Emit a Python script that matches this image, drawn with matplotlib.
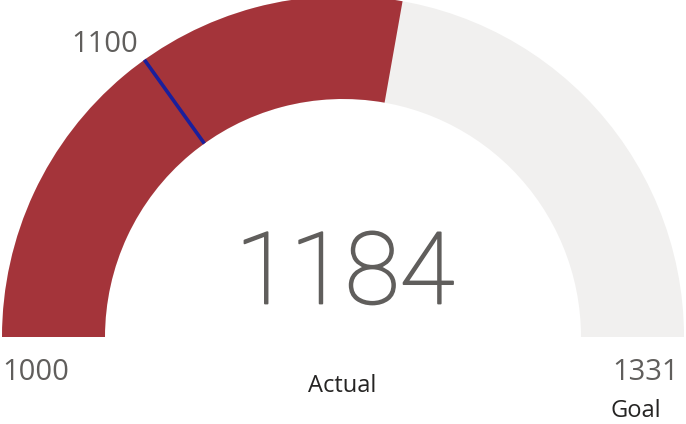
import matplotlib
matplotlib.use("Agg")
import matplotlib.pyplot as plt
from matplotlib.patches import Wedge
import matplotlib.patheffects as pe
import numpy as np

# Data
gauge_min = 1000
gauge_max = 1331
actual = 1184
target = 1100
labels = ["Actual", "Goal"]

W, H = 686, 424
fig = plt.figure(figsize=(W / 100, H / 100), dpi=100)
ax = fig.add_axes([0, 0, 1, 1])
ax.set_xlim(0, W)
ax.set_ylim(0, H)
ax.axis("off")

cx, cy = 343, 424 - 337
r_out, r_in = 341, 238
width = r_out - r_in

def ang(v):
    return 180 - (v - gauge_min) / (gauge_max - gauge_min) * 180

red = "#A4343A"
grey = "#F1F0EF"
txt = "#605E5C"

ax.add_patch(Wedge((cx, cy), r_out, 0, 180, width=width, facecolor=grey, edgecolor="none"))
ax.add_patch(Wedge((cx, cy), r_out, ang(actual), 180, width=width, facecolor=red, edgecolor="none"))

ta = np.deg2rad(ang(target))
ax.plot([cx + r_in * np.cos(ta), cx + r_out * np.cos(ta)],
        [cy + r_in * np.sin(ta), cy + r_out * np.sin(ta)],
        color="#1A1F9C", lw=2.6, solid_capstyle="butt")

fam = ["Open Sans", "DejaVu Sans"]
ax.text(345, 424 - 276, f"{actual}", fontsize=72, color=txt, ha="center", va="center",
        family=["Roboto", "DejaVu Sans"], fontweight="light",
        path_effects=[pe.withStroke(linewidth=1.3, foreground=txt)])
ax.text(342, 424 - 386, labels[0], fontsize=17, color="#252423", ha="center", va="center", family=fam)
ax.text(636, 424 - 411, labels[1], fontsize=17, color="#252423", ha="center", va="center", family=fam)
ax.text(36, 424 - 372, f"{gauge_min}", fontsize=21, color=txt, ha="center", va="center", family=fam)
ax.text(646, 424 - 372, f"{gauge_max}", fontsize=21, color=txt, ha="center", va="center", family=fam)
ax.text(105, 424 - 44, f"{target}", fontsize=21, color=txt, ha="center", va="center", family=fam)

fig.savefig("out.png", dpi=100)
